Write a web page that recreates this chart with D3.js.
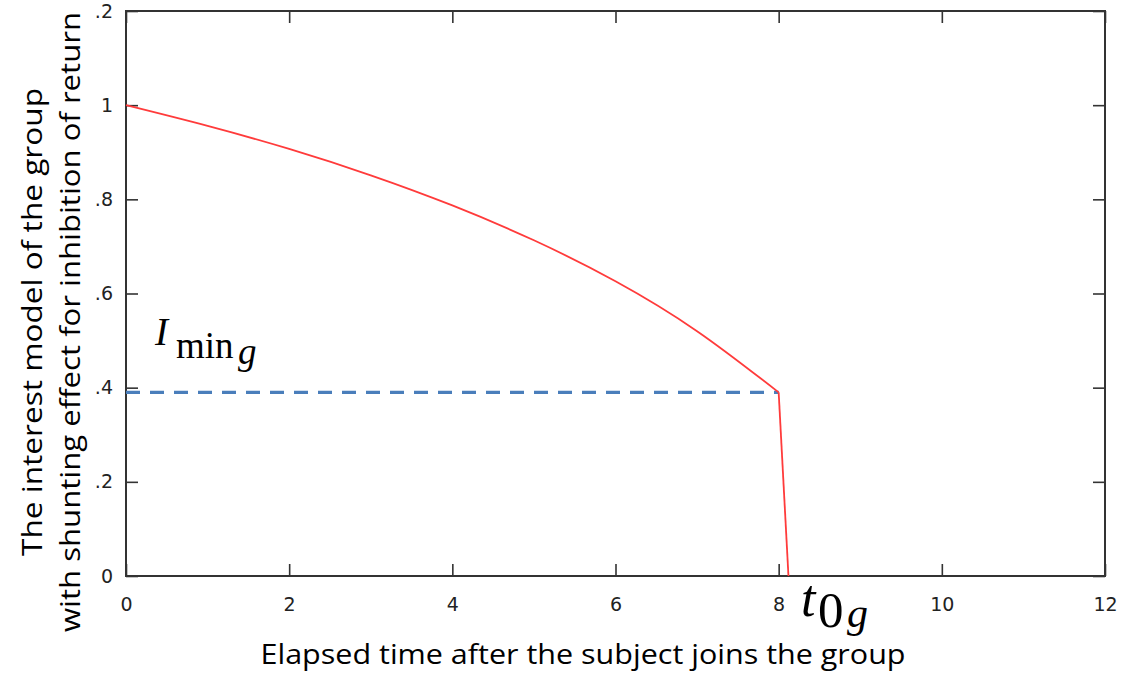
<!DOCTYPE html>
<html>
<head>
<meta charset="utf-8">
<script src="https://cdn.jsdelivr.net/npm/d3@7"></script>
<style>
  body { margin: 0; background: #fff; }
  svg { display: block; }
</style>
</head>
<body>
<svg id="chart" width="1126" height="677"></svg>
<script>
// values
var times = [0, 1, 2, 3, 4, 5, 6, 7, 8];
var interest = [1.0, 0.956, 0.907, 0.851, 0.787, 0.713, 0.626, 0.52, 0.39];
var dropTime = 8.12;   // t0g, where the curve hits zero
var iMin = 0.39;       // Imin g level

var xTicks = [0, 2, 4, 6, 8, 10, 12];
var xTickLabels = ["0", "2", "4", "6", "8", "10", "12"];
var yTicks = [0, 0.2, 0.4, 0.6, 0.8, 1, 1.2];
var yTickLabels = ["0", ".2", ".4", ".6", ".8", "1", ".2"];

var xTitle = "Elapsed time after the subject joins the group";
var yTitle1 = "The interest model of the group";
var yTitle2 = "with shunting effect for inhibition of return";

function draw() {
    var svg = d3.select("svg#chart");
    var left = 126, right = 1105, top = 11, bottom = 576;

    var x = d3.scaleLinear().domain([0, 12]).range([left, right]);
    var y = d3.scaleLinear().domain([0, 1.2]).range([bottom, top]);

    var tickFont = "'DejaVu Sans', Verdana, sans-serif";

    // axes, ticks pointing inward on all four sides
    var gx = svg.append("g")
        .attr("transform", "translate(0," + bottom + ")")
        .call(d3.axisBottom(x).tickValues(xTicks)
            .tickFormat((d, i) => xTickLabels[i])
            .tickSize(-12).tickPadding(22));
    var gy = svg.append("g")
        .attr("transform", "translate(" + left + ",0)")
        .call(d3.axisLeft(y).tickValues(yTicks)
            .tickFormat((d, i) => yTickLabels[i])
            .tickSize(-12).tickPadding(13));
    var gt = svg.append("g")
        .attr("transform", "translate(0," + top + ")")
        .call(d3.axisTop(x).tickValues(xTicks).tickFormat("").tickSize(-12));
    var gr = svg.append("g")
        .attr("transform", "translate(" + right + ",0)")
        .call(d3.axisRight(y).tickValues(yTicks).tickFormat("").tickSize(-12));

    [gx, gy, gt, gr].forEach(g => {
        g.select(".domain").remove();
        g.attr("font-size", null).attr("font-family", null);
        g.selectAll(".tick line").attr("stroke", "#333").attr("stroke-width", 1.6);
        g.selectAll("text")
            .style("font-family", tickFont)
            .style("font-size", "19px")
            .attr("fill", "#222");
    });

    // frame
    svg.append("rect")
        .attr("x", left).attr("y", top)
        .attr("width", right - left).attr("height", bottom - top)
        .attr("fill", "none")
        .attr("stroke", "#333")
        .attr("stroke-width", 2);

    // Imin g dashed level
    svg.append("line")
        .attr("x1", x(0)).attr("x2", x(times[times.length - 1]))
        .attr("y1", y(iMin)).attr("y2", y(iMin))
        .attr("stroke", "#4a7ebb")
        .attr("stroke-width", 3.2)
        .attr("stroke-dasharray", "14,10");

    // interest curve
    var pts = times.map((t, i) => [t, interest[i]]);
    var line = d3.line()
        .x(d => x(d[0]))
        .y(d => y(d[1]))
        .curve(d3.curveNatural);
    svg.append("path")
        .attr("d", line(pts))
        .attr("fill", "none")
        .attr("stroke", "#ff3b3b")
        .attr("stroke-width", 1.8);

    // drop to zero
    svg.append("line")
        .attr("x1", x(times[times.length - 1])).attr("y1", y(interest[interest.length - 1]))
        .attr("x2", x(dropTime)).attr("y2", y(0))
        .attr("stroke", "#ff3b3b")
        .attr("stroke-width", 1.8);

    // axis titles
    var titleFont = "'Open Sans', Lato, sans-serif";
    svg.append("text")
        .attr("x", 583).attr("y", 664)
        .attr("text-anchor", "middle")
        .attr("textLength", 645).attr("lengthAdjust", "spacingAndGlyphs")
        .style("font-family", titleFont).style("font-size", "27px")
        .attr("fill", "#000")
        .text(xTitle);

    svg.append("text")
        .attr("transform", "translate(42,322) rotate(-90)")
        .attr("text-anchor", "middle")
        .attr("textLength", 468).attr("lengthAdjust", "spacingAndGlyphs")
        .style("font-family", titleFont).style("font-size", "27px")
        .attr("fill", "#000")
        .text(yTitle1);
    svg.append("text")
        .attr("transform", "translate(80,322) rotate(-90)")
        .attr("text-anchor", "middle")
        .attr("textLength", 620).attr("lengthAdjust", "spacingAndGlyphs")
        .style("font-family", titleFont).style("font-size", "27px")
        .attr("fill", "#000")
        .text(yTitle2);

    // math labels
    var serif = "'Liberation Serif', 'Times New Roman', serif";
    var imin = svg.append("text").style("font-family", serif).attr("fill", "#000");
    imin.append("tspan").attr("x", 155).attr("y", 345)
        .style("font-style", "italic").style("font-size", "39px").text("I");
    imin.append("tspan").attr("x", 176).attr("y", 358)
        .style("font-size", "37px").text("min");
    imin.append("tspan").attr("x", 238).attr("y", 364)
        .style("font-style", "italic").style("font-size", "37px").text("g");

    var t0 = svg.append("text").style("font-family", serif).attr("fill", "#000");
    t0.append("tspan").attr("x", 801).attr("y", 616)
        .style("font-style", "italic").style("font-size", "52px").text("t");
    t0.append("tspan").attr("x", 818).attr("y", 627)
        .style("font-size", "51px").text("0");
    t0.append("tspan").attr("x", 847).attr("y", 627)
        .style("font-style", "italic").style("font-size", "42px").text("g");
}

draw();
</script>
</body>
</html>
